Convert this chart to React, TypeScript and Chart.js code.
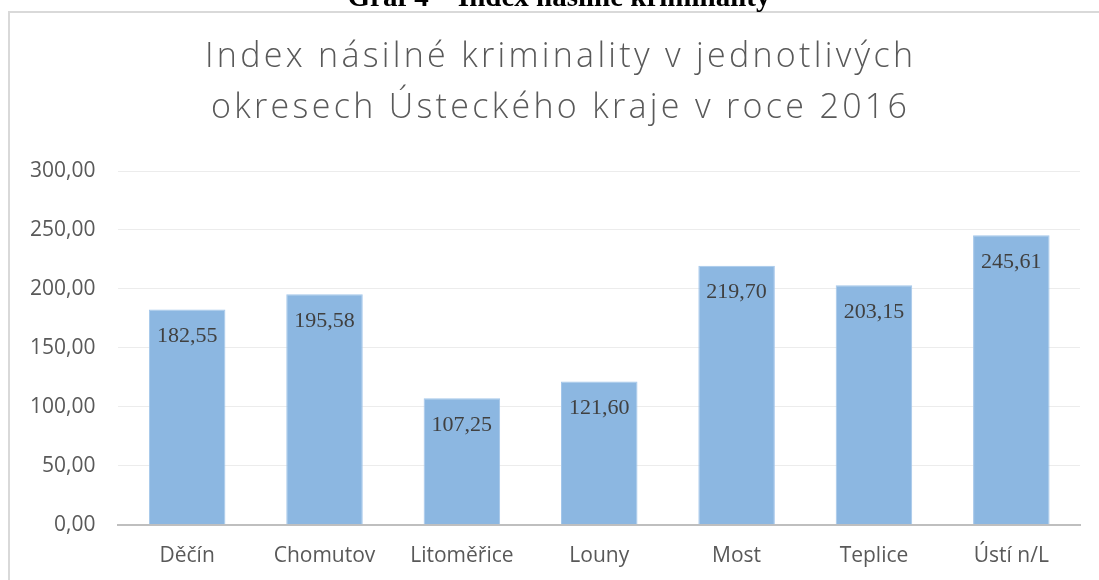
import React, { useEffect, useRef } from "react";
import { Chart, registerables } from "chart.js";

Chart.register(...registerables);

const categories = ["Děčín", "Chomutov", "Litoměřice", "Louny", "Most", "Teplice", "Ústí n/L"];
const values = [182.55, 195.58, 107.25, 121.6, 219.7, 203.15, 245.61];
const yTicks = [0, 50, 100, 150, 200, 250, 300];
const titleLines = ["Index násilné kriminality v jednotlivých", "okresech Ústeckého kraje v roce 2016"];
const headerText = "Graf 4 – Index násilné kriminality";

const fmt = (v: number) => v.toFixed(2).replace(".", ",");

const decorPlugin = {
  id: "decor",
  beforeDraw(chart: any) {
    const ctx = chart.ctx;
    ctx.save();
    ctx.fillStyle = "#ffffff";
    ctx.fillRect(0, 0, chart.width, chart.height);
    ctx.strokeStyle = "#d9d9d9";
    ctx.lineWidth = 2;
    ctx.strokeRect(9, 12, 1200, 700);
    ctx.fillStyle = "#000000";
    ctx.font = 'bold 29px "Liberation Serif"';
    ctx.textAlign = "center";
    ctx.textBaseline = "alphabetic";
    ctx.fillText(headerText, 559, 6);
    ctx.restore();
  },
  afterDraw(chart: any) {
    const ctx = chart.ctx;
    ctx.save();
    ctx.fillStyle = "#595959";
    ctx.font = '300 34px "Open Sans"';
    ctx.textAlign = "left";
    ctx.textBaseline = "alphabetic";
    const targets = [708, 696];
    const baselines = [67, 118];
    titleLines.forEach((line, i) => {
      (ctx as any).letterSpacing = "0px";
      const w = ctx.measureText(line).width;
      const n = [...line].length;
      const s = (targets[i] - w) / (n - 1);
      (ctx as any).letterSpacing = s + "px";
      const x = 559 - targets[i] / 2;
      ctx.fillText(line, x, baselines[i]);
    });
    (ctx as any).letterSpacing = "0px";
    ctx.restore();
  },
  afterDatasetsDraw(chart: any) {
    const ctx = chart.ctx;
    const meta = chart.getDatasetMeta(0);
    ctx.save();
    ctx.fillStyle = "#404040";
    ctx.font = '22px "Liberation Serif"';
    ctx.textAlign = "center";
    ctx.textBaseline = "middle";
    meta.data.forEach((bar: any, i: number) => {
      ctx.fillText(fmt(values[i]), bar.x, bar.y + 27);
    });
    ctx.restore();
  },
};

export default function App() {
  const ref = useRef<HTMLCanvasElement>(null);
  useEffect(() => {
    if (!ref.current) return;
    const chart = new Chart(ref.current, {
      type: "bar",
      data: {
        labels: categories,
        datasets: [
          {
            data: values,
            backgroundColor: "#8cb7e1",
            borderColor: "#a4c6ea",
            borderWidth: 1,
            categoryPercentage: 1,
            barPercentage: 0.557,
          },
        ],
      },
      options: {
        responsive: false,
        animation: false,
        devicePixelRatio: 1,
        layout: { padding: { top: 171, bottom: 12, left: 7, right: 19 } },
        plugins: {
          legend: { display: false },
          title: { display: false },
          tooltip: { enabled: false },
        },
        scales: {
          x: {
            grid: { display: false, drawTicks: false },
            border: { display: true, color: "#bfbfbf", width: 2 },
            ticks: {
              color: "#595959",
              font: { family: '"Open Sans"', size: 21 },
              padding: 19,
              maxRotation: 0,
            },
          },
          y: {
            min: yTicks[0],
            max: yTicks[yTicks.length - 1],
            afterBuildTicks: (axis: any) => {
              axis.ticks = yTicks.map((v) => ({ value: v }));
            },
            grid: { color: "#ececec", lineWidth: 1, drawTicks: false },
            border: { display: false },
            ticks: {
              color: "#595959",
              font: { family: '"Open Sans"', size: 21 },
              padding: 23,
              callback: (v: any) => fmt(Number(v)),
            },
          },
        },
      },
      plugins: [decorPlugin],
    });
    return () => chart.destroy();
  }, []);
  return (
    <div style={{ position: "absolute", top: 0, left: 0, width: 1099, height: 580, overflow: "hidden" }}>
      <canvas ref={ref} width={1099} height={600} style={{ display: "block", width: 1099, height: 600 }} />
    </div>
  );
}
